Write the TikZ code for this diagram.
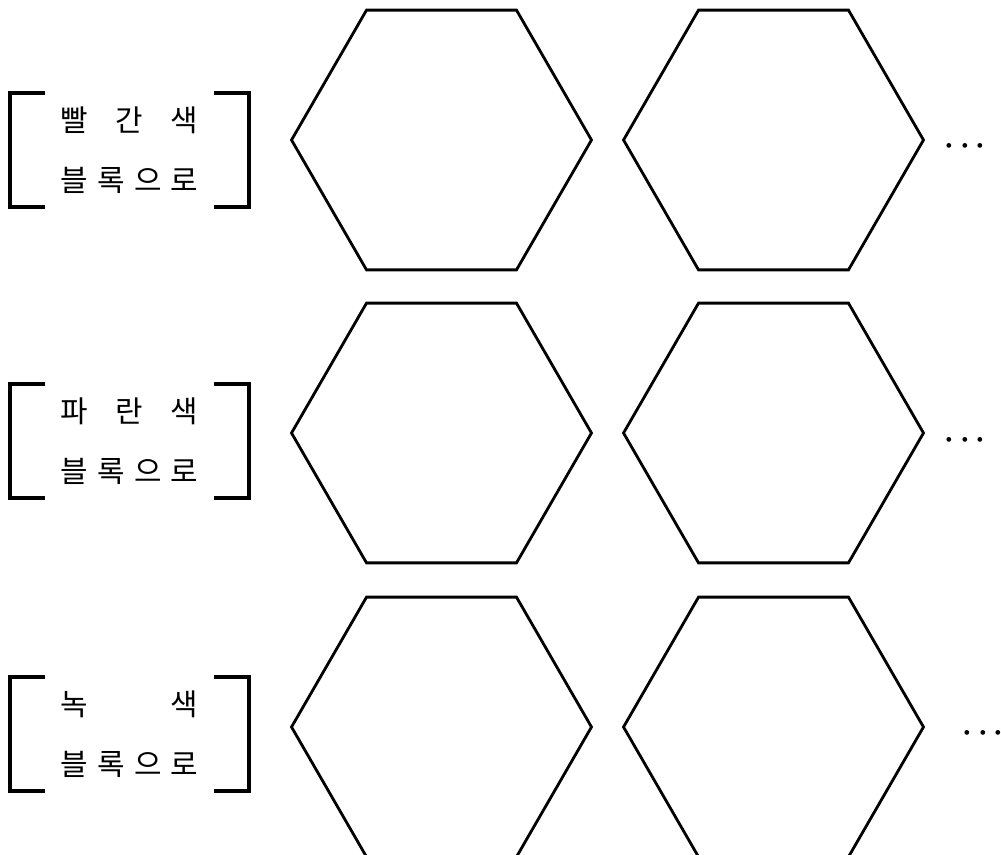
\documentclass[tikz,border=0pt]{standalone}
\usepackage{fontspec}
\usepackage{tikz}
\usetikzlibrary{shapes.geometric}
\newfontfamily\krfont{Noto Sans CJK KR}
\newcommand{\spreadtxt}[1]{\makebox[2.75cm][s]{#1}}

\begin{document}
\begin{tikzpicture}[x=0.02cm,y=-0.02cm,
        hexa/.style={regular polygon,regular polygon sides=6,draw,line width=1.6pt,
                     minimum size=6cm,inner sep=0pt},
        tagbox/.style={minimum width=4.76cm,minimum height=2.26cm,inner sep=0pt,
                       font=\krfont\fontsize{17}{34}\selectfont,align=center},
        bracket/.style={line width=2.2pt},
        more/.style={font=\fontsize{19}{22}\selectfont\boldmath,inner sep=0pt}]
      \useasboundingbox (0,0) rectangle (1001,855);
      % labels
      \node[tagbox](red)   at(129.5,150){\spreadtxt{빨 간 색}\\\spreadtxt{블\hfill 록\hfill 으\hfill 로}};
      \node[tagbox](blue)  at(129.5,441){\spreadtxt{파 란 색}\\\spreadtxt{블\hfill 록\hfill 으\hfill 로}};
      \node[tagbox](green) at(129.5,734){\spreadtxt{녹 색}\\\spreadtxt{블\hfill 록\hfill 으\hfill 로}};
      \foreach \n in {red,blue,green}{
        \draw[bracket]([xshift=0.7cm]\n.north west)--(\n.north west)--(\n.south west)--([xshift=0.7cm]\n.south west);
        \draw[bracket]([xshift=-0.7cm]\n.north east)--(\n.north east)--(\n.south east)--([xshift=-0.7cm]\n.south east);
      }
      % blocks
      \node[hexa](r1) at(441.5,140){};
      \node[hexa](r2) at(773.5,140){};
      \node[hexa](b1) at(441.5,433){};
      \node[hexa](b2) at(773.5,433){};
      \node[hexa](g1) at(441.5,727){};
      \node[hexa](g2) at(773.5,727){};
      \node[more](rdots) at(965,146){$\cdots$};
      \node[more](bdots) at(965,440){$\cdots$};
      \node[more](gdots) at(983,733){$\cdots$};
    \end{tikzpicture}
\end{document}
